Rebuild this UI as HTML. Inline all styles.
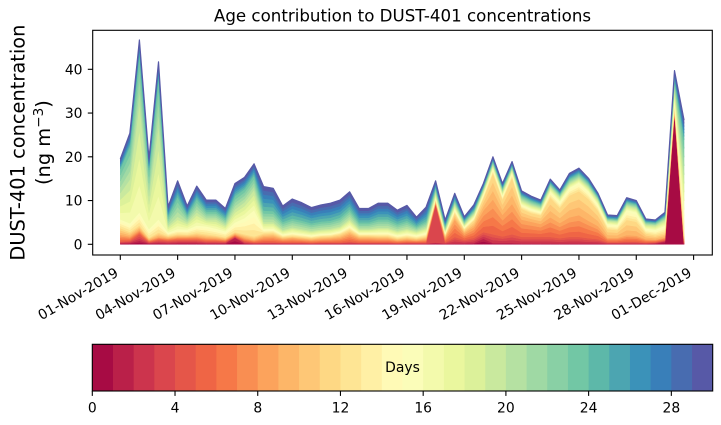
<!DOCTYPE html>
<html>
<head>
<meta charset="utf-8">
<style>
  html,body{margin:0;padding:0;background:#fff;}
  svg{display:block;}
  text{font-family:"DejaVu Sans","Liberation Sans",sans-serif;fill:#000;}
</style>
</head>
<body>
<svg id="svg" width="721" height="425" viewBox="0 0 721 425" xmlns="http://www.w3.org/2000/svg">
  <rect x="0" y="0" width="721" height="425" fill="#fff"/>
  <g id="layers"></g>
  <!-- axes frame -->
  <rect x="92.7" y="30.3" width="619.6" height="224.7" fill="none" stroke="#000" stroke-width="1.1"/>
  <!-- title -->
  <text x="402.5" y="21.5" font-size="16.67" text-anchor="middle">Age contribution to DUST-401 concentrations</text>
  <!-- y ticks -->
  <g stroke="#000" stroke-width="1.1">
    <line x1="87.8" y1="244.3" x2="92.7" y2="244.3"/>
    <line x1="87.8" y1="200.55" x2="92.7" y2="200.55"/>
    <line x1="87.8" y1="156.8" x2="92.7" y2="156.8"/>
    <line x1="87.8" y1="113.05" x2="92.7" y2="113.05"/>
    <line x1="87.8" y1="69.3" x2="92.7" y2="69.3"/>
  </g>
  <g font-size="13.9" text-anchor="end">
    <text x="82.5" y="249.3">0</text>
    <text x="82.5" y="205.55">10</text>
    <text x="82.5" y="161.8">20</text>
    <text x="82.5" y="118.05">30</text>
    <text x="82.5" y="74.3">40</text>
  </g>
  <!-- y label -->
  <text font-size="19.4" text-anchor="middle" transform="translate(24.3,142.6) rotate(-90)">DUST-401 concentration</text>
  <text font-size="19.4" text-anchor="middle" transform="translate(50,142.6) rotate(-90)">(ng m<tspan font-size="13.6" dy="-7">−3</tspan><tspan dy="7">)</tspan></text>
  <!-- x ticks -->
  <g stroke="#000" stroke-width="1.1">
    <line x1="120.3" y1="255" x2="120.3" y2="259.9"/>
    <line x1="177.63" y1="255" x2="177.63" y2="259.9"/>
    <line x1="234.96" y1="255" x2="234.96" y2="259.9"/>
    <line x1="292.29" y1="255" x2="292.29" y2="259.9"/>
    <line x1="349.62" y1="255" x2="349.62" y2="259.9"/>
    <line x1="406.95" y1="255" x2="406.95" y2="259.9"/>
    <line x1="464.28" y1="255" x2="464.28" y2="259.9"/>
    <line x1="521.61" y1="255" x2="521.61" y2="259.9"/>
    <line x1="578.94" y1="255" x2="578.94" y2="259.9"/>
    <line x1="636.27" y1="255" x2="636.27" y2="259.9"/>
    <line x1="693.6" y1="255" x2="693.6" y2="259.9"/>
  </g>
  <g font-size="13.9" text-anchor="end">
    <text transform="translate(119.3,275.5) rotate(-30)">01-Nov-2019</text>
    <text transform="translate(176.63,275.5) rotate(-30)">04-Nov-2019</text>
    <text transform="translate(233.96,275.5) rotate(-30)">07-Nov-2019</text>
    <text transform="translate(291.29,275.5) rotate(-30)">10-Nov-2019</text>
    <text transform="translate(348.62,275.5) rotate(-30)">13-Nov-2019</text>
    <text transform="translate(405.95,275.5) rotate(-30)">16-Nov-2019</text>
    <text transform="translate(463.28,275.5) rotate(-30)">19-Nov-2019</text>
    <text transform="translate(520.61,275.5) rotate(-30)">22-Nov-2019</text>
    <text transform="translate(577.94,275.5) rotate(-30)">25-Nov-2019</text>
    <text transform="translate(635.27,275.5) rotate(-30)">28-Nov-2019</text>
    <text transform="translate(692.6,275.5) rotate(-30)">01-Dec-2019</text>
  </g>
  <!-- colorbar -->
  <g id="cbar"></g>
  <rect x="92.3" y="344.3" width="620.4" height="46.7" fill="none" stroke="#000" stroke-width="1.1"/>
  <g stroke="#000" stroke-width="1.1">
    <line x1="92.3" y1="391" x2="92.3" y2="395.9"/>
    <line x1="175.02" y1="391" x2="175.02" y2="395.9"/>
    <line x1="257.74" y1="391" x2="257.74" y2="395.9"/>
    <line x1="340.46" y1="391" x2="340.46" y2="395.9"/>
    <line x1="423.18" y1="391" x2="423.18" y2="395.9"/>
    <line x1="505.9" y1="391" x2="505.9" y2="395.9"/>
    <line x1="588.62" y1="391" x2="588.62" y2="395.9"/>
    <line x1="671.34" y1="391" x2="671.34" y2="395.9"/>
  </g>
  <g font-size="13.9" text-anchor="middle">
    <text x="92.3" y="412.5">0</text>
    <text x="175.02" y="412.5">4</text>
    <text x="257.74" y="412.5">8</text>
    <text x="340.46" y="412.5">12</text>
    <text x="423.18" y="412.5">16</text>
    <text x="505.9" y="412.5">20</text>
    <text x="588.62" y="412.5">24</text>
    <text x="671.34" y="412.5">28</text>
  </g>
  <text x="402.5" y="372" font-size="13.9" text-anchor="middle">Days</text>
</svg>
<script>
(function(){
  var SP=[[158,1,66],[213,62,79],[244,109,67],[253,174,97],[254,224,139],[255,255,191],[230,245,152],[171,221,164],[102,194,165],[50,136,189],[94,79,162]];
  function spectral(t){
    var s=t*10, i=Math.floor(s); if(i>9)i=9; if(i<0)i=0;
    var f=s-i, a=SP[i], b=SP[i+1];
    return 'rgb('+Math.round(a[0]+(b[0]-a[0])*f)+','+Math.round(a[1]+(b[1]-a[1])*f)+','+Math.round(a[2]+(b[2]-a[2])*f)+')';
  }
  var NS='http://www.w3.org/2000/svg';
  var cols=[]; for(var k=0;k<30;k++) cols.push(spectral((k+0.5)/30));

  var D=[
  [19.5, 0.2,0.5,1.5,1.5,2,6,5.5,2.3],
  [25.4, 0.3,0.5,1,1,2,10,7.5,3.1],
  [46.7, 0.8,1.5,1,1,3,25,11.2,3.2],
  [19.6, 0.2,0.3,0.5,0.5,2,7.5,6,2.6],
  [41.7, 0.3,0.7,0.7,1,3,21.5,11,3.5],
  [8.6, 0.2,0.6,0.6,0.5,0.8,1.6,2,2.3],
  [14.5, 0.3,0.7,0.7,0.6,1.2,2.8,4.5,3.7],
  [8.75, 0.3,0.7,0.7,0.5,1.2,1.6,1.6,2.15],
  [13.3, 0.3,0.7,0.8,0.8,1.7,3,3,3.0],
  [10.1, 0.2,0.5,0.8,0.8,1.8,1.6,1.8,2.6],
  [10.1, 0.2,0.5,0.7,0.6,1.6,2.1,1.8,2.6],
  [8.2, 0.2,0.4,0.5,0.5,1.4,1.4,1.5,2.3],
  [13.9, 1.5,0.3,0.5,0.5,2.2,3,3,2.9],
  [15.3, 0.2,0.5,0.8,0.8,3.7,3.6,3,2.7],
  [18.4, 0.1,0.3,0.6,0.8,6,4.6,3.3,2.7],
  [13.2, 0.1,0.4,1.2,0.8,1,1.6,2.6,5.5],
  [12.8, 0.1,0.4,1.3,0.8,1,1.5,2.5,5.2],
  [8.75, 0.1,0.3,0.8,0.5,0.6,1,1.8,3.65],
  [10.35, 0.1,0.3,1,0.5,0.8,1.2,2,4.45],
  [9.5, 0.1,0.3,0.8,0.5,0.7,1.1,1.9,4.1],
  [8.4, 0.1,0.2,0.7,0.5,0.6,1,1.7,3.6],
  [9.0, 0.1,0.3,0.8,0.6,0.6,1,1.8,3.8],
  [9.4, 0.1,0.3,0.9,0.6,0.6,1.1,1.8,4],
  [10.1, 0.1,0.3,1.1,0.8,0.7,1.1,2,4],
  [12.0, 0.1,0.5,1.7,1,1,1.5,2.2,4],
  [8.2, 0.1,0.3,1,0.6,0.6,0.9,1.5,3.2],
  [8.2, 0.1,0.3,1,0.6,0.6,0.9,1.5,3.2],
  [9.4, 0.1,0.3,0.9,0.6,0.8,1.1,1.9,3.7],
  [9.4, 0.1,0.3,0.9,0.6,0.8,1.1,1.9,3.7],
  [7.8, 0.1,0.2,0.6,0.5,0.7,1,1.6,3.1],
  [8.9, 0.1,0.3,0.7,0.6,0.8,1.1,1.8,3.5],
  [6.2, 0.1,0.3,0.5,0.5,0.7,0.9,1.1,2.1],
  [8.5, 0.1,0.3,0.8,0.6,0.9,1.1,1.5,3.2],
  [14.5, 0.3,0.3,0.4,0.5,0.6,1.1,1.2,1.6, {3:8.9}],
  [5.55, 0.1,0.3,1,0.5,0.5,0.6,0.8,1.2],
  [11.65, 0.2,1.5,4,1.5,1,1,1,1.6],
  [6.3, 0.2,0.8,1.5,0.8,0.6,0.6,0.7,1.0],
  [9.0, 0.3,1.2,2.5,1.5,0.8,0.8,0.8,1.3],
  [13.9, 1.3,1.5,5,2.8,1,0.8,0.7,0.9],
  [20.0, 0.3,2,8,6,1.2,0.8,0.8,1.0],
  [13.9, 0.3,1.5,5,3.5,1,0.9,0.8,1.0],
  [18.9, 0.3,2,7,6,1.2,0.8,0.7,1.0],
  [12.2, 0.2,1.5,4,2.5,1,1,1,1.1],
  [11.0, 0.2,1.5,3.5,2,1,0.9,0.9,1.1],
  [10.1, 0.2,1.5,3,2,0.9,0.8,0.8,1.0],
  [14.9, 0.2,1.5,4.5,4.5,1.5,1,0.8,1.0],
  [12.4, 0.2,1.2,3.5,3.5,1.5,1,0.7,0.9],
  [16.2, 0.2,1.5,4.5,5,1.8,1,1,1.3],
  [17.4, 0.2,1.5,5,5.5,2,1,1,1.3],
  [15.1, 0.2,1.2,4,5,1.8,1,0.9,1.1],
  [11.65, 0.2,1,3,3.5,1.5,1,0.7,0.85],
  [6.7, 0.1,0.4,1,2,1.2,0.8,0.5,0.8],
  [6.55, 0.1,0.4,1,1.8,1.2,0.8,0.5,0.85],
  [10.65, 0.1,0.5,1.5,3.5,2.3,1,0.8,1.0],
  [10.0, 0.1,0.5,1.4,3.2,2.2,1,0.8,0.9],
  [5.8, 0.1,0.3,0.8,1.3,1.2,0.9,0.6,0.7],
  [5.55, 0.2,0.3,0.6,1,1.3,1,0.6,0.65],
  [7.3, 0.6,0.3,0.6,1,1.6,1.2,0.8,0.9],
  [39.7, 0.1,0.3,0.5,0.6,2,2.2,2,2.0, {0:30.2}],
  [28.4, 0,0.3,0.6,1,6,8,8,4.5]
  ];
  var groups=[[0,1],[2,4],[5,8],[9,11],[12,15],[16,19],[20,23],[24,29]];
  var X0=120.3, DX=9.555, Y0=244.3, SY=4.375;
  var N=D.length, cum=[];
  for(var i=0;i<N;i++){
    var w=[]; for(var a=0;a<30;a++) w.push(0);
    for(var g=0;g<groups.length;g++){
      var v=D[i][g+1], n=groups[g][1]-groups[g][0]+1;
      for(var a2=groups[g][0];a2<=groups[g][1];a2++) w[a2]+=v/n;
    }
    if(D[i][9]){ for(var key in D[i][9]) w[+key]+=D[i][9][key]; }
    var s=0; for(var a3=0;a3<30;a3++) s+=w[a3];
    var sc=s>0?D[i][0]/s:0, c=[0];
    for(var a4=0;a4<30;a4++) c.push(c[a4]+w[a4]*sc);
    cum.push(c);
  }
  var L=document.getElementById('layers');
  for(var k2=0;k2<30;k2++){
    var pts=[];
    for(var i2=0;i2<N;i2++) pts.push((X0+i2*DX).toFixed(2)+','+(Y0-SY*cum[i2][k2+1]).toFixed(2));
    for(var i3=N-1;i3>=0;i3--) pts.push((X0+i3*DX).toFixed(2)+','+(Y0-SY*cum[i3][k2]).toFixed(2));
    var p=document.createElementNS(NS,'polygon');
    p.setAttribute('points',pts.join(' '));
    p.setAttribute('fill',cols[k2]);
    p.setAttribute('stroke',cols[k2]);
    p.setAttribute('stroke-width','0.5');
    p.setAttribute('stroke-linejoin','round');
    L.appendChild(p);
  }
  var tp=[];
  for(var i4=0;i4<N;i4++) tp.push((X0+i4*DX).toFixed(2)+','+(Y0-SY*cum[i4][30]).toFixed(2));
  var pl=document.createElementNS(NS,'polyline');
  pl.setAttribute('points',tp.join(' '));
  pl.setAttribute('fill','none');
  pl.setAttribute('stroke',cols[29]);
  pl.setAttribute('stroke-width','1.2');
  pl.setAttribute('stroke-linejoin','round');
  L.appendChild(pl);

  var C=document.getElementById('cbar');
  var bw=620.4/30;
  for(var k3=0;k3<30;k3++){
    var r=document.createElementNS(NS,'rect');
    r.setAttribute('x',(92.3+k3*bw).toFixed(2));
    r.setAttribute('y','344.3');
    r.setAttribute('width',(bw+(k3<29?0.4:0)).toFixed(2));
    r.setAttribute('height','46.7');
    r.setAttribute('fill',cols[k3]);
    C.appendChild(r);
  }
})();
</script>
</body>
</html>
